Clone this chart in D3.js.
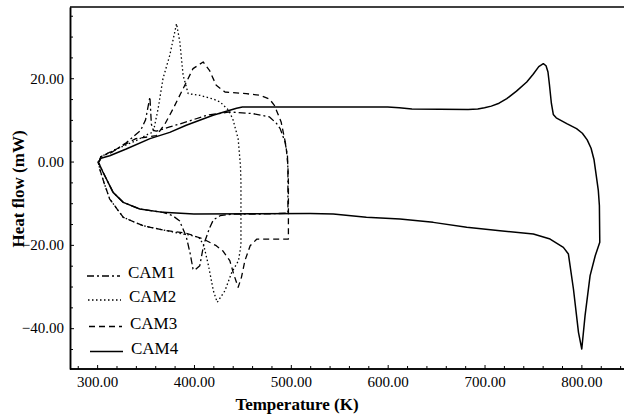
<!DOCTYPE html>
<html>
<head>
<meta charset="utf-8">
<script src="https://cdn.jsdelivr.net/npm/d3@7"></script>
<style>
  body { margin: 0; background: #fff; }
  text { font-family: "Liberation Serif", "Times New Roman", serif; fill: #000; }
</style>
</head>
<body>
<div id="chart"></div>
<script>
// DSC curves: temperature (K) and heat flow (mW)
const series = ["CAM1", "CAM2", "CAM3", "CAM4"];

const cam1T = [302, 304, 315, 330, 345, 350, 354.5, 356, 358, 361, 375, 392, 413, 437, 461, 478, 485, 489, 494, 496.5, 497, 497, 470, 440, 427, 420, 416, 410, 406, 401, 399, 396, 392, 385, 378, 368, 344, 327, 316.5, 306, 301];
const cam1Q = [0, 1.2, 2.2, 4.5, 7.5, 10, 15.5, 9, 7.5, 7.3, 8.3, 9.5, 11.1, 11.9, 11.5, 10.7, 9.2, 7.9, 4.7, 1.5, -2, -12.4, -12.6, -12.6, -13, -14, -16, -20, -25, -26, -25.8, -22, -18, -14.2, -13, -12.2, -11.4, -9.8, -7.4, -2.5, 0];

const cam2T = [302, 304, 320, 340, 352, 358, 363, 368, 375, 382, 385.4, 388.8, 394, 406, 420, 427, 435, 440, 445.6, 448, 448.5, 448.5, 446, 439, 432, 424, 420, 415, 410, 405, 395, 388.8, 371.7, 347.5, 327, 313, 307, 303, 301];
const cam2Q = [0, 1.2, 3, 5, 6.5, 7.1, 12.7, 19.9, 25.5, 33.1, 28.7, 20.7, 16.3, 15.9, 15, 14.3, 12.5, 10.3, 5.5, -1, -5, -20, -23.8, -26.6, -31, -33.8, -31, -25, -20, -18.2, -17.6, -17.4, -16.6, -15.4, -13.4, -9, -5, -2, 0];

const cam3T = [302, 304, 320, 340, 361, 370, 378.5, 388.8, 399, 409.5, 416, 423, 432, 454, 468, 478, 483, 490, 495, 497, 497.5, 497.5, 465, 458, 452.6, 449, 445.6, 441, 437, 430, 423, 409.5, 392, 371.7, 347.5, 327, 313, 307, 303, 301];
const cam3Q = [0, 1.2, 3, 5.5, 6.2, 9, 12.7, 17.5, 22.3, 23.9, 21.9, 18.3, 16.7, 16.3, 15.9, 15, 13.5, 9.5, 3.8, -1, -5, -18.6, -18.6, -20.2, -23.8, -27.8, -30.2, -27, -23.8, -21.5, -20.2, -18.6, -17.2, -16.6, -15.4, -13.4, -9, -5, -2, 0];

const cam4T = [302, 304, 313, 330, 354.6, 375, 392, 419.7, 437, 444, 450, 600, 612, 625, 683, 693, 700, 707, 715, 723, 733, 743.6, 750, 756, 760.7, 763.5, 765.5, 767, 769, 771, 774, 784.9, 795, 801, 806, 810, 813, 815, 817.5, 818.6, 819, 814.3, 809, 803.8, 800.4, 797, 791.8, 786.6, 781.4, 767.7, 750.4, 716, 681.6, 647, 612.7, 578, 543.8, 520, 400, 368, 344, 327, 316.5, 306, 301];
const cam4Q = [0, 0.8, 1.4, 3, 5.5, 7, 8.7, 11.1, 12.3, 12.8, 13.1, 13.1, 12.9, 12.6, 12.5, 12.6, 12.9, 13.3, 14, 15.1, 16.9, 19.1, 20.9, 22.8, 23.5, 23, 21.5, 18.5, 14, 11.3, 10.5, 9.1, 7.9, 6.8, 5.2, 3.2, 0.5, -2.8, -7, -10.6, -19.4, -22.6, -27.4, -37, -45, -41, -30.6, -22.2, -20.6, -18.6, -17.4, -16.6, -15.8, -14.6, -13.8, -13.4, -12.6, -12.5, -12.6, -12.2, -11.4, -9.8, -7.4, -2.5, 0];

const xTicks = [300, 400, 500, 600, 700, 800];
const yTicks = [-40, -20, 0, 20];

const curves = [
  { name: series[0], t: cam1T, q: cam1Q, dash: "7,3,2,3", width: 1.3 },
  { name: series[1], t: cam2T, q: cam2Q, dash: "1.5,2.5", width: 1.3 },
  { name: series[2], t: cam3T, q: cam3Q, dash: "6,4", width: 1.3 },
  { name: series[3], t: cam4T, q: cam4Q, dash: null, width: 1.5 }
];

const W = 624, H = 417;
const mLeft = 70, mRight = 624, mTop = 7, mBottom = 369;

const svg = d3.select("#chart").append("svg").attr("width", W).attr("height", H);

const x = d3.scaleLinear().domain([272, 844]).range([mLeft, mRight]);
const y = d3.scaleLinear().domain([-49.8, 37.1]).range([mBottom, mTop]);

// frame: top line, bottom and left axes
svg.append("line").attr("x1", mLeft).attr("x2", W).attr("y1", mTop).attr("y2", mTop)
  .attr("stroke", "#000").attr("stroke-width", 1.5);

const xAxis = svg.append("g")
  .attr("transform", `translate(0, ${mBottom})`)
  .call(d3.axisBottom(x).tickValues(xTicks).tickSizeInner(-4).tickSizeOuter(0).tickPadding(7)
    .tickFormat(d3.format(".2f")));

const xMinor = svg.append("g")
  .attr("transform", `translate(0, ${mBottom})`)
  .call(d3.axisBottom(x).tickValues(d3.range(280, 841, 20).filter((v) => v % 100 !== 0))
    .tickSizeInner(-3).tickSizeOuter(0).tickFormat(""));

const yAxis = svg.append("g")
  .attr("transform", `translate(${mLeft}, 0)`)
  .call(d3.axisLeft(y).tickValues(yTicks).tickSizeInner(-4).tickSizeOuter(0).tickPadding(6)
    .tickFormat(d3.format(".2f")));

const yMinor = svg.append("g")
  .attr("transform", `translate(${mLeft}, 0)`)
  .call(d3.axisLeft(y).tickValues(d3.range(-45, 36, 5).filter((v) => v % 20 !== 0))
    .tickSizeInner(-3).tickSizeOuter(0).tickFormat(""));

[xAxis, xMinor, yAxis, yMinor].forEach((g) => {
  g.select(".domain").attr("stroke", "#000").attr("stroke-width", 1.5);
  g.selectAll(".tick line").attr("stroke", "#000").attr("stroke-width", 1);
  g.selectAll("text").attr("font-family", "Liberation Serif").attr("font-size", 15);
});
xAxis.select(".domain").attr("d", `M${mLeft},0H${W}`);
xMinor.select(".domain").attr("d", `M${mLeft},0H${W}`);

const line = d3.line().x((d) => x(d[0])).y((d) => y(d[1]));

svg.append("g").selectAll("path")
  .data(curves)
  .enter()
  .append("path")
  .attr("d", (c) => line(c.t.map((t, i) => [t, c.q[i]])))
  .attr("fill", "none")
  .attr("stroke", "#000")
  .attr("stroke-width", (c) => c.width)
  .attr("stroke-dasharray", (c) => c.dash)
  .attr("stroke-linejoin", "round");

// legend
const legendY = [276, 300, 326.5, 351.5];
const legend = svg.append("g").selectAll("g").data(curves).enter().append("g")
  .attr("transform", (c, i) => `translate(${87 + i}, ${legendY[i]})`);

legend.append("line")
  .attr("x1", 0).attr("x2", 33).attr("y1", 0).attr("y2", 0)
  .attr("stroke", "#000")
  .attr("stroke-width", (c) => c.width)
  .attr("stroke-dasharray", (c) => c.dash);

legend.append("text")
  .attr("x", 41).attr("y", 2)
  .attr("font-size", 17)
  .text((c) => c.name);

svg.append("text")
  .attr("x", 297).attr("y", 410)
  .attr("text-anchor", "middle")
  .attr("font-size", 17).attr("font-weight", "bold")
  .text("Temperature (K)");

svg.append("text")
  .attr("transform", "translate(24, 189) rotate(-90)")
  .attr("text-anchor", "middle")
  .attr("font-size", 17).attr("font-weight", "bold")
  .text("Heat flow (mW)");
</script>
</body>
</html>
